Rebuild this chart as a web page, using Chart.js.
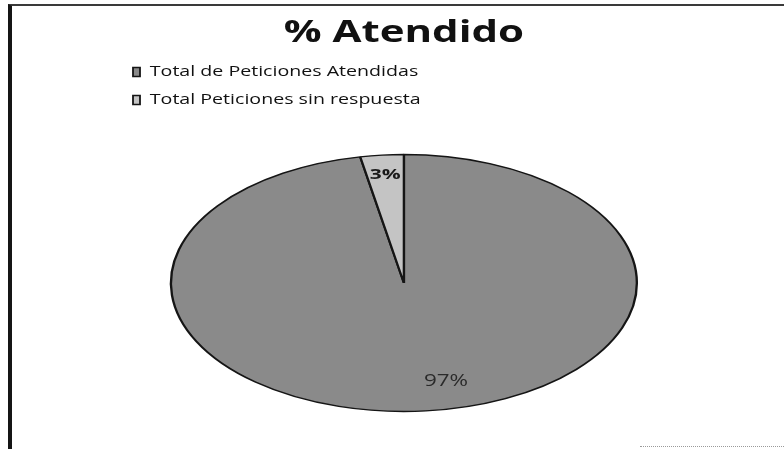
<!DOCTYPE html>
<html>
<head>
<meta charset="utf-8">
<script src="https://cdn.jsdelivr.net/npm/chart.js@4"></script>
<style>
html,body{margin:0;padding:0;background:#fff;}
#wrap{position:relative;width:784px;height:449px;overflow:hidden;background:#fff;}
#frame{position:absolute;left:8px;top:4px;width:780px;height:450px;border-left:4px solid #151515;border-top:2px solid #3a3a3a;box-sizing:border-box;}
#tail{position:absolute;left:640px;top:446px;width:144px;border-top:1px dotted #9a9a9a;}
canvas{position:absolute;left:0;top:0;}
</style>
</head>
<body>
<div id="wrap">
  <div id="frame"></div>
  <div id="tail"></div>
  <canvas id="c" width="784" height="449" style="width:784px;height:449px"></canvas>
</div>
<script>
// ---- data ----
const chartTitle = '% Atendido';
const categories = ['Total de Peticiones Atendidas', 'Total Peticiones sin respuesta'];
const values = [97, 3];
const sliceColors = ['#8a8a8a', '#c4c4c4'];

// ---- styling helpers ----
const STRETCH = 1.4;      // horizontal stretch of the whole scanned picture
const ELLIPSE_X = 1.295;  // extra horizontal flattening of the pie

const stretchPlugin = {
  id: 'stretchPlugin',
  beforeDraw(chart) { chart.ctx.save(); chart.ctx.scale(STRETCH, 1); },
  afterDraw(chart) { chart.ctx.restore(); }
};

const ellipsePlugin = {
  id: 'ellipsePlugin',
  beforeDatasetsDraw(chart) {
    const arc = chart.getDatasetMeta(0).data[0];
    const ctx = chart.ctx;
    ctx.save();
    ctx.translate(arc.x, arc.y);
    ctx.scale(ELLIPSE_X, 1);
    ctx.translate(-arc.x, -arc.y);
  },
  afterDatasetsDraw(chart, args, opts) {
    const ctx = chart.ctx;
    ctx.restore();
    const meta = chart.getDatasetMeta(0);
    const total = values.reduce((a, b) => a + b, 0);
    meta.data.forEach((arc, i) => {
      const mid = (arc.startAngle + arc.endAngle) / 2;
      const r = arc.outerRadius * opts.radial[i];
      const x = arc.x + Math.cos(mid) * r * ELLIPSE_X + opts.shift[i];
      const y = arc.y + Math.sin(mid) * r;
      ctx.save();
      ctx.font = opts.fonts[i];
      ctx.fillStyle = opts.colors[i];
      ctx.textAlign = 'center';
      ctx.textBaseline = 'middle';
      ctx.fillText(Math.round(values[i] / total * 100) + '%', x, y);
      ctx.restore();
    });
  }
};

new Chart(document.getElementById('c'), {
  type: 'pie',
  data: {
    labels: categories,
    datasets: [{
      data: values,
      backgroundColor: sliceColors,
      borderColor: '#151515',
      borderWidth: 1.3,
      radius: 128.5,
      clip: false
    }]
  },
  options: {
    responsive: false,
    animation: false,
    events: [],
    layout: { padding: { left: 81, right: 288, top: 15, bottom: 0 } },
    plugins: {
      title: {
        display: true,
        text: chartTitle,
        color: '#111',
        font: { family: 'Open Sans', size: 30, weight: 'bold' },
        padding: { top: 0, bottom: 0 }
      },
      legend: {
        display: true,
        position: 'top',
        align: 'start',
        labels: {
          boxWidth: 5,
          boxHeight: 9,
          padding: 14,
          color: '#111',
          font: { family: 'Open Sans', size: 14 }
        }
      },
      tooltip: { enabled: false },
      ellipsePlugin: {
        radial: [0.77, 0.85],
        shift: [18, 0],
        fonts: ['16px "Open Sans"', 'bold 15px "Open Sans"'],
        colors: ['#2a2a2a', '#1a1a1a']
      }
    }
  },
  plugins: [stretchPlugin, ellipsePlugin]
});
</script>
</body>
</html>
